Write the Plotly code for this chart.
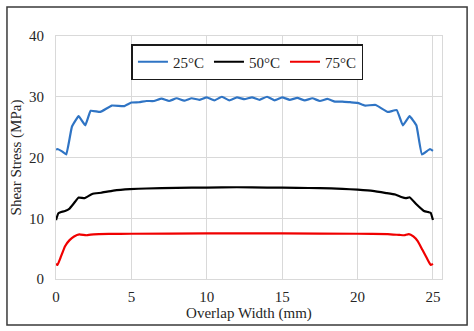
import plotly.graph_objects as go

# Blue series (25°C)
x_25 = [0, 0.1, 0.4, 0.68, 1.06, 1.5, 1.94, 2.3, 2.94, 3.7, 4.5, 5.0, 5.5, 6.0, 6.5, 7.0, 7.5, 8.0, 8.5, 9.0,
        9.5, 10.0, 10.5, 11.0, 11.5, 12.0, 12.5, 13.0, 13.5, 14.0, 14.5, 15.0, 15.5, 16.0, 16.5, 17.0, 17.5,
        18.0, 18.5, 19.0, 19.5, 20.0, 20.5, 21.2, 22.0, 22.6, 23.0, 23.45, 23.9, 24.27, 24.8, 25.0]
y_25 = [21.3, 21.4, 21.0, 20.5, 25.1, 26.8, 25.3, 27.7, 27.5, 28.55, 28.45, 29.05, 29.1, 29.3, 29.3, 29.7, 29.3, 29.75, 29.35, 29.75,
        29.5, 29.9, 29.4, 30.0, 29.4, 29.9, 29.6, 29.9, 29.5, 30.0, 29.4, 29.9, 29.5, 29.8, 29.4, 29.75, 29.3,
        29.65, 29.2, 29.2, 29.1, 29.0, 28.55, 28.65, 27.5, 27.8, 25.3, 26.8, 25.3, 20.5, 21.4, 21.1]

# Black series (50°C)
x_50 = [0, 0.15, 0.3, 0.6, 0.9, 1.2, 1.5, 1.9, 2.4, 3.0, 3.8, 4.9, 6.0, 8.0, 10.0, 12.0, 14.0, 16.0, 17.5, 19.0,
        20.0, 21.0, 21.9, 22.5, 22.9, 23.2, 23.45, 23.9, 24.4, 24.7, 24.85, 25.0]
y_50 = [9.7, 10.8, 11.0, 11.2, 11.6, 12.5, 13.4, 13.3, 14.0, 14.2, 14.55, 14.8, 14.9, 15.0, 15.05, 15.1, 15.05, 15.0, 14.95, 14.85,
        14.7, 14.5, 14.15, 13.9, 13.5, 13.3, 13.45, 12.3, 11.2, 11.0, 10.9, 9.7]

# Red series (75°C)
x_75 = [0, 0.1, 0.3, 0.6, 0.9, 1.2, 1.55, 2.0, 2.5, 3.5, 5, 10, 15, 20, 22, 22.8, 23.1, 23.4, 23.7, 24.0,
        24.3, 24.6, 24.85, 25.0]
y_75 = [2.5, 2.3, 3.5, 5.4, 6.4, 7.0, 7.35, 7.2, 7.35, 7.42, 7.45, 7.5, 7.5, 7.45, 7.4, 7.25, 7.2, 7.4, 7.0, 6.2,
        4.8, 3.4, 2.3, 2.5]

series = [
    ("25°C", x_25, y_25, "#2f74c4"),
    ("50°C", x_50, y_50, "#000000"),
    ("75°C", x_75, y_75, "#f00000"),
]

x_ticks = [0, 5, 10, 15, 20, 25]
y_ticks = [0, 10, 20, 30, 40]

FONT = "Liberation Serif"
TXT = "#262626"

fig = go.Figure()
for name, xs, ys, color in series:
    fig.add_trace(go.Scatter(x=xs, y=ys, mode="lines", name=name,
                             line=dict(color=color, width=2.2, shape="spline", smoothing=0.3)))

fig.update_layout(
    width=474, height=331,
    margin=dict(l=56, r=32, t=36, b=52),
    paper_bgcolor="white", plot_bgcolor="white",
    font=dict(family=FONT, size=15, color=TXT),
    showlegend=True,
    legend=dict(orientation="h", x=0.496, y=0.967, xanchor="center", yanchor="top",
                bgcolor="white", bordercolor="#1a1a1a", borderwidth=1.5,
                font=dict(family=FONT, size=15, color=TXT),
                itemwidth=30, tracegroupgap=0),
    xaxis=dict(range=[0, 25.6], tickvals=x_ticks, ticktext=[str(v) for v in x_ticks],
               showgrid=True, gridcolor="#d9d9d9", gridwidth=1,
               showline=True, linecolor="#d9d9d9", linewidth=1, mirror=True,
               zeroline=False, ticks="", ticklabelstandoff=4, automargin=False,
               tickfont=dict(family=FONT, size=15, color=TXT),
               title=dict(text="Overlap Width (mm)", standoff=3,
                          font=dict(family=FONT, size=15, color=TXT))),
    yaxis=dict(range=[0, 40], tickvals=y_ticks, ticktext=[str(v) for v in y_ticks],
               showgrid=True, gridcolor="#d9d9d9", gridwidth=1,
               showline=True, linecolor="#d9d9d9", linewidth=1, mirror=True,
               zeroline=False, ticks="", ticklabelstandoff=8, automargin=False,
               tickfont=dict(family=FONT, size=15, color=TXT),
               title=dict(text="Shear Stress (MPa)", standoff=3,
                          font=dict(family=FONT, size=15, color=TXT))),
    shapes=[dict(type="rect", xref="paper", yref="paper",
                 x0=-0.127, x1=1.065, y0=-0.189, y1=1.119,
                 line=dict(color="#3a3a3a", width=1.5), fillcolor="rgba(0,0,0,0)", layer="below")],
)

fig.write_html("out.html")
